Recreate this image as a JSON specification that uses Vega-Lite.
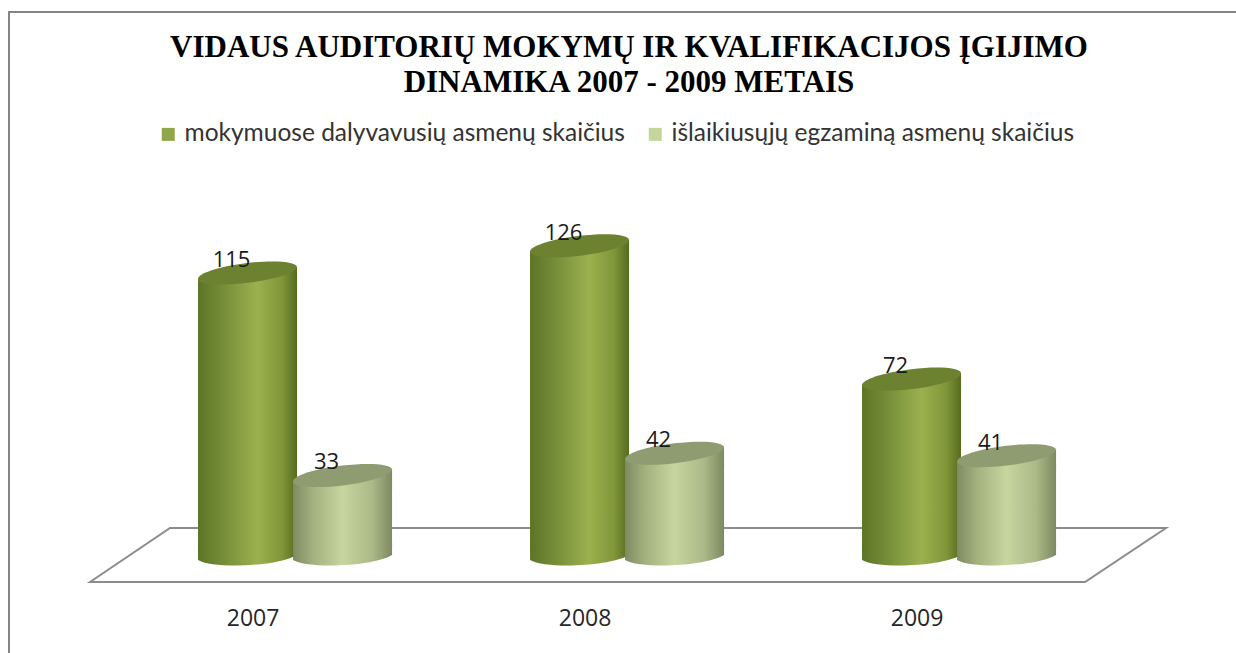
{
"$schema":"https://vega.github.io/schema/vega-lite/v6.json",
"width":1230,"height":645,
"autosize":{"type":"none"},
"padding":{"left":9,"top":12,"right":-3,"bottom":-4},
"background":"white",
"view":{"stroke":"#858585","strokeWidth":2,"fill":"white"},
"title":{"text":["VIDAUS AUDITORIŲ MOKYMŲ IR KVALIFIKACIJOS ĮGIJIMO","DINAMIKA 2007 - 2009 METAIS"],"font":"Liberation Serif","fontWeight":"bold","fontSize":31,"lineHeight":35,"color":"#000000","anchor":"middle","frame":"group","dx":5,"offset":-118,"baseline":"bottom"},
"datasets":{"d":[
{"year":"2007","series":"mokymuose dalyvavusių asmenų skaičius","value":115},
{"year":"2007","series":"išlaikiusųjų egzaminą asmenų skaičius","value":33},
{"year":"2008","series":"mokymuose dalyvavusių asmenų skaičius","value":126},
{"year":"2008","series":"išlaikiusųjų egzaminą asmenų skaičius","value":42},
{"year":"2009","series":"mokymuose dalyvavusių asmenų skaičius","value":72},
{"year":"2009","series":"išlaikiusųjų egzaminą asmenų skaičius","value":41}
]},
"data":{"name":"d"},
"encoding":{
"x":{"field":"year","type":"nominal","title":null,"scale":{"domain":["2007","2008","2009"],"paddingInner":0,"paddingOuter":0.3524,"align":0.513},"axis":{"domain":false,"ticks":false,"labelAngle":0,"labelOffset":-42,"labelPadding":-39,"labelBaseline":"middle","labelFont":"Open Sans","labelFontSize":23,"labelColor":"#262626","grid":false}},
"xOffset":{"field":"series","type":"nominal","scale":{"domain":["mokymuose dalyvavusių asmenų skaičius","išlaikiusųjų egzaminą asmenų skaičius"],"paddingInner":0,"paddingOuter":0.747}},
"y":{"field":"value","type":"quantitative","title":null,"stack":null,"scale":{"domain":[-40.5,220.65],"nice":false,"zero":false},"axis":null}
},
"layer":[
{"mark":{"type":"point","filled":true,"opacity":1,"size":1000000,"fill":"#ffffff","stroke":"#8c8c8c","strokeWidth":2,"shape":"M-0.979,0.05L-0.819,-0.058L1.173,-0.058L1.011,0.05Z"},
 "transform":[{"filter":"datum.year==='2008'&&datum.value===126"}],
 "encoding":{"y":{"datum":0}}},

{"transform":[{"filter":"datum.value>=72"}],"encoding":{"y2":{"datum":3}},"mark":{"type":"bar","size":99,"yOffset":8,"fill":{"gradient":"linear","x1":0,"x2":1,"y1":0,"y2":0,"stops":[{"offset":0,"color":"#5d7426"},{"offset":0.25,"color":"#758d38"},{"offset":0.6,"color":"#9bb14f"},{"offset":0.85,"color":"#7f9639"},{"offset":1,"color":"#566b1f"}]}}},
{"transform":[{"filter":"datum.value>=72"}],"mark":{"type":"point","filled":true,"opacity":1,"size":9801,"strokeWidth":0,"shape":"M-1,0.12L1,-0.12L1,0.3L-1,0.3Z","fill":{"gradient":"linear","x1":0,"x2":1,"y1":0,"y2":0,"stops":[{"offset":0,"color":"#5d7426"},{"offset":0.25,"color":"#758d38"},{"offset":0.6,"color":"#9bb14f"},{"offset":0.85,"color":"#7f9639"},{"offset":1,"color":"#566b1f"}]}}},
{"transform":[{"filter":"datum.value>=72"}],"mark":{"type":"point","filled":true,"opacity":1,"size":9801,"strokeWidth":0,"shape":"M-1,-0.3L-1,0.06C-0.7,0.24 0.6,0.2 1,-0.04L1,-0.3Z","fill":{"gradient":"linear","x1":0,"x2":1,"y1":0,"y2":0,"stops":[{"offset":0,"color":"#5d7426"},{"offset":0.25,"color":"#758d38"},{"offset":0.6,"color":"#9bb14f"},{"offset":0.85,"color":"#7f9639"},{"offset":1,"color":"#566b1f"}]}},"encoding":{"y":{"datum":0}}},
{"transform":[{"filter":"datum.value>=72"}],"mark":{"type":"point","filled":true,"opacity":1,"size":9801,"strokeWidth":0,"fill":"#6d8230","shape":"M-1,0.12A1.007,0.2 -7 0 1 1,-0.12A1.007,0.2 -7 0 1 -1,0.12Z"}},

{"transform":[{"filter":"datum.value<72"}],"encoding":{"y2":{"datum":3}},"mark":{"type":"bar","size":99,"yOffset":8,"fill":{"gradient":"linear","x1":0,"x2":1,"y1":0,"y2":0,"stops":[{"offset":0,"color":"#7e8b62"},{"offset":0.2,"color":"#a3b17f"},{"offset":0.5,"color":"#c7d59f"},{"offset":0.8,"color":"#aab987"},{"offset":1,"color":"#7d8961"}]}}},
{"transform":[{"filter":"datum.value<72"}],"mark":{"type":"point","filled":true,"opacity":1,"size":9801,"strokeWidth":0,"shape":"M-1,0.12L1,-0.12L1,0.3L-1,0.3Z","fill":{"gradient":"linear","x1":0,"x2":1,"y1":0,"y2":0,"stops":[{"offset":0,"color":"#7e8b62"},{"offset":0.2,"color":"#a3b17f"},{"offset":0.5,"color":"#c7d59f"},{"offset":0.8,"color":"#aab987"},{"offset":1,"color":"#7d8961"}]}}},
{"transform":[{"filter":"datum.value<72"}],"mark":{"type":"point","filled":true,"opacity":1,"size":9801,"strokeWidth":0,"shape":"M-1,-0.3L-1,0.06C-0.7,0.24 0.6,0.2 1,-0.04L1,-0.3Z","fill":{"gradient":"linear","x1":0,"x2":1,"y1":0,"y2":0,"stops":[{"offset":0,"color":"#7e8b62"},{"offset":0.2,"color":"#a3b17f"},{"offset":0.5,"color":"#c7d59f"},{"offset":0.8,"color":"#aab987"},{"offset":1,"color":"#7d8961"}]}},"encoding":{"y":{"datum":0}}},
{"transform":[{"filter":"datum.value<72"}],"mark":{"type":"point","filled":true,"opacity":1,"size":9801,"strokeWidth":0,"fill":"#8f9c72","shape":"M-1,0.12A1.007,0.2 -7 0 1 1,-0.12A1.007,0.2 -7 0 1 -1,0.12Z"}},

{"mark":{"type":"text","font":"Open Sans","fontSize":22,"color":"#1a1a1a","dx":-16,"dy":-13,"baseline":"middle","align":"center"},"encoding":{"text":{"field":"value","type":"quantitative"}}},

{"mark":{"type":"point","filled":true,"opacity":1,"size":0,"strokeWidth":0},
 "encoding":{"color":{"field":"series","type":"nominal","scale":{"domain":["mokymuose dalyvavusių asmenų skaičius","išlaikiusųjų egzaminą asmenų skaičius"],"range":["#8fa74a","#c4d69c"]},"legend":{"title":null,"orient":"none","legendX":147,"legendY":110,"direction":"horizontal","columns":2,"columnPadding":18,"symbolType":"square","symbolSize":169,"symbolOpacity":1,"symbolStrokeWidth":0,"labelFont":"Lato","labelFontSize":24.5,"labelColor":"#333333","labelLimit":700,"labelOffset":4}}}}
]
}
